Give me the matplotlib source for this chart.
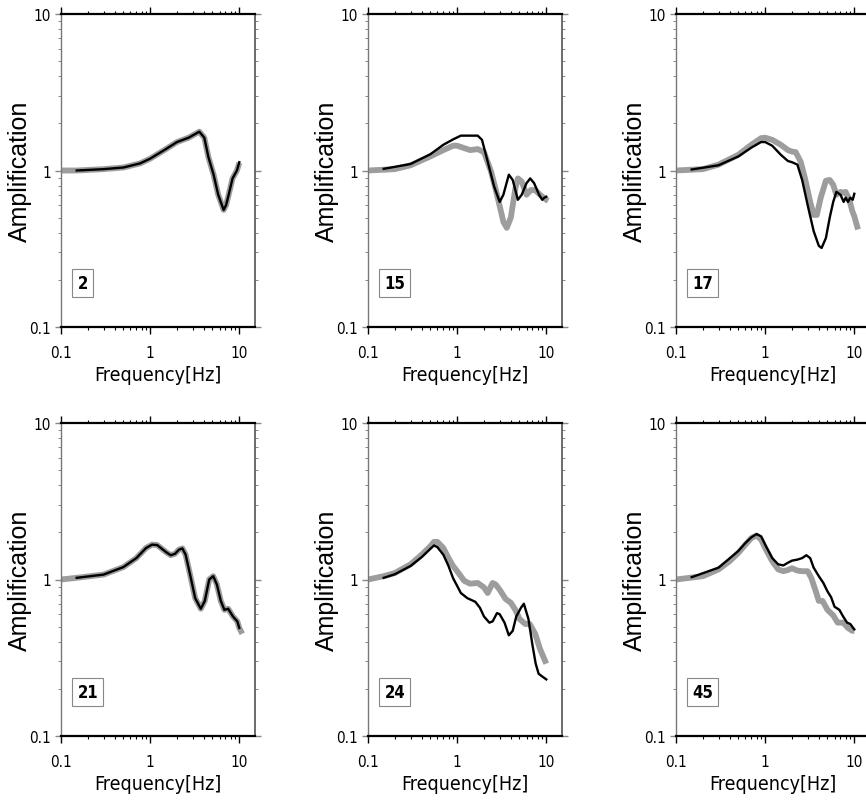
import numpy as np
import matplotlib
matplotlib.use("Agg")
import matplotlib.pyplot as plt
from matplotlib import font_manager as fm
from matplotlib.ticker import LogLocator, FixedLocator, FixedFormatter, NullFormatter

# site numbers of the six panels
sites = ["2", "15", "17", "21", "24", "45"]

# site 2
f2_g = [0.1, 0.15, 0.3, 0.5, 0.77, 1.0, 1.5, 2.0, 2.7, 3.56, 4.05, 4.5, 5.15, 5.8, 6.67, 7.1, 7.6, 8.4, 9.4, 10]
a2_g = [1.0, 1.0, 1.02, 1.045, 1.11, 1.19, 1.37, 1.52, 1.62, 1.77, 1.62, 1.22, 0.94, 0.70, 0.56, 0.60, 0.70, 0.89, 1.0, 1.12]
f2_b = [0.15, 0.3, 0.5, 0.77, 1.0, 1.5, 2.0, 2.7, 3.56, 4.05, 4.5, 5.15, 5.8, 6.67, 7.1, 7.6, 8.4, 9.4, 10]
a2_b = [1.0, 1.02, 1.045, 1.11, 1.19, 1.37, 1.52, 1.62, 1.77, 1.62, 1.22, 0.94, 0.70, 0.56, 0.60, 0.70, 0.89, 1.0, 1.13]

# site 15
f15_g = [0.1, 0.2, 0.3, 0.5, 0.7, 0.9, 1.0, 1.2, 1.4, 1.7, 2.0, 2.4, 2.8, 3.3, 3.6, 4.0, 4.5, 4.8, 5.3, 6.0, 6.7, 7.5, 8.5, 10, 10.5]
a15_g = [1.0, 1.02, 1.08, 1.23, 1.35, 1.44, 1.44, 1.39, 1.35, 1.37, 1.31, 0.985, 0.70, 0.47, 0.43, 0.50, 0.77, 0.89, 0.85, 0.70, 0.75, 0.75, 0.70, 0.65, 0.64]
f15_b = [0.15, 0.3, 0.5, 0.7, 0.9, 1.1, 1.4, 1.7, 1.9, 2.2, 2.6, 3.0, 3.3, 3.8, 4.2, 4.8, 5.3, 6.0, 6.6, 7.3, 8.3, 9.0, 9.5, 10]
a15_b = [1.025, 1.10, 1.27, 1.46, 1.58, 1.67, 1.67, 1.67, 1.57, 1.14, 0.79, 0.63, 0.70, 0.94, 0.87, 0.65, 0.70, 0.83, 0.89, 0.83, 0.70, 0.65, 0.67, 0.68]

# site 17
f17_g = [0.1, 0.2, 0.3, 0.5, 0.7, 0.9, 1.0, 1.2, 1.5, 1.8, 2.0, 2.2, 2.5, 2.8, 3.2, 3.5, 3.8, 4.2, 4.8, 5.3, 5.8, 6.3, 7.0, 7.5, 8.0, 8.8, 9.5, 10, 11]
a17_g = [1.0, 1.02, 1.09, 1.26, 1.46, 1.61, 1.62, 1.57, 1.46, 1.35, 1.32, 1.31, 1.14, 0.89, 0.63, 0.52, 0.52, 0.67, 0.86, 0.87, 0.81, 0.70, 0.73, 0.72, 0.73, 0.65, 0.55, 0.51, 0.42]
f17_b = [0.15, 0.3, 0.5, 0.7, 0.9, 1.0, 1.2, 1.5, 1.8, 2.0, 2.3, 2.6, 3.0, 3.5, 4.0, 4.3, 4.8, 5.3, 5.8, 6.3, 7.0, 7.6, 8.0, 8.5, 9.0, 9.6, 10]
a17_b = [1.015, 1.08, 1.23, 1.40, 1.52, 1.52, 1.44, 1.26, 1.15, 1.13, 1.09, 0.87, 0.60, 0.41, 0.33, 0.32, 0.37, 0.50, 0.63, 0.73, 0.70, 0.63, 0.67, 0.63, 0.67, 0.65, 0.71]

# site 21
f21_g = [0.1, 0.15, 0.3, 0.5, 0.7, 0.9, 1.05, 1.2, 1.5, 1.7, 1.9, 2.1, 2.3, 2.5, 2.8, 3.2, 3.7, 4.1, 4.6, 5.1, 5.6, 6.2, 6.8, 7.5, 8.5, 9.5, 10, 10.8]
a21_g = [1.0, 1.025, 1.075, 1.20, 1.37, 1.59, 1.67, 1.66, 1.50, 1.43, 1.46, 1.55, 1.58, 1.44, 1.08, 0.76, 0.65, 0.73, 1.0, 1.05, 0.93, 0.73, 0.64, 0.65, 0.58, 0.54, 0.49, 0.45]
f21_b = [0.15, 0.3, 0.5, 0.7, 0.9, 1.05, 1.2, 1.5, 1.7, 1.9, 2.1, 2.3, 2.5, 2.8, 3.2, 3.7, 4.1, 4.6, 5.1, 5.6, 6.2, 6.8, 7.5, 8.5, 9.5, 10]
a21_b = [1.025, 1.075, 1.20, 1.37, 1.59, 1.67, 1.66, 1.50, 1.43, 1.46, 1.55, 1.58, 1.44, 1.08, 0.76, 0.65, 0.73, 1.0, 1.05, 0.93, 0.73, 0.64, 0.65, 0.58, 0.54, 0.49]

# site 24
f24_g = [0.1, 0.15, 0.2, 0.3, 0.4, 0.5, 0.55, 0.6, 0.7, 0.8, 0.9, 1.0, 1.2, 1.4, 1.7, 2.0, 2.2, 2.5, 2.7, 3.0, 3.5, 4.0, 4.5, 5.0, 5.8, 6.5, 7.5, 8.5, 9.5, 10]
a24_g = [1.0, 1.05, 1.10, 1.25, 1.44, 1.63, 1.74, 1.74, 1.59, 1.37, 1.22, 1.13, 0.98, 0.94, 0.95, 0.89, 0.82, 0.95, 0.93, 0.86, 0.75, 0.71, 0.64, 0.56, 0.52, 0.52, 0.45, 0.36, 0.31, 0.29]
f24_b = [0.15, 0.2, 0.3, 0.4, 0.5, 0.55, 0.6, 0.7, 0.8, 0.9, 1.0, 1.1, 1.3, 1.6, 1.8, 2.0, 2.3, 2.5, 2.8, 3.0, 3.4, 3.8, 4.2, 4.6, 5.2, 5.6, 6.3, 7.0, 7.6, 8.2, 9.0, 10]
a24_b = [1.025, 1.08, 1.22, 1.39, 1.57, 1.65, 1.61, 1.44, 1.22, 1.02, 0.91, 0.82, 0.76, 0.72, 0.66, 0.58, 0.53, 0.54, 0.61, 0.60, 0.53, 0.44, 0.47, 0.58, 0.66, 0.70, 0.56, 0.38, 0.29, 0.25, 0.24, 0.23]

# site 45
f45_g = [0.1, 0.2, 0.3, 0.4, 0.5, 0.6, 0.7, 0.8, 0.9, 1.0, 1.2, 1.4, 1.6, 1.8, 2.0, 2.3, 2.6, 3.0, 3.3, 3.7, 4.0, 4.4, 5.0, 5.8, 6.5, 7.5, 8.5, 9.5, 10]
a45_g = [1.0, 1.05, 1.16, 1.31, 1.48, 1.67, 1.84, 1.91, 1.80, 1.59, 1.31, 1.16, 1.13, 1.15, 1.18, 1.14, 1.13, 1.13, 1.02, 0.84, 0.73, 0.73, 0.64, 0.59, 0.53, 0.53, 0.49, 0.47, 0.47]
f45_b = [0.15, 0.3, 0.5, 0.6, 0.7, 0.8, 0.9, 1.0, 1.2, 1.4, 1.6, 1.8, 2.0, 2.3, 2.6, 2.9, 3.2, 3.5, 4.0, 4.5, 5.0, 5.5, 6.0, 6.8, 7.5, 8.3, 9.0, 10]
a45_b = [1.035, 1.19, 1.52, 1.71, 1.86, 1.95, 1.89, 1.67, 1.37, 1.25, 1.23, 1.28, 1.32, 1.34, 1.37, 1.43, 1.37, 1.19, 1.05, 0.95, 0.84, 0.77, 0.67, 0.64, 0.58, 0.53, 0.52, 0.48]

gray_f = [f2_g, f15_g, f17_g, f21_g, f24_g, f45_g]
gray_a = [a2_g, a15_g, a17_g, a21_g, a24_g, a45_g]
black_f = [f2_b, f15_b, f17_b, f21_b, f24_b, f45_b]
black_a = [a2_b, a15_b, a17_b, a21_b, a24_b, a45_b]


# look for a narrow/condensed font for the tick labels, x label and site boxes
def find_narrow(weight="normal"):
    for name in ["Liberation Sans Narrow", "DejaVu Sans"]:
        try:
            path = fm.findfont(fm.FontProperties(family=name, stretch="condensed", weight=weight),
                               fallback_to_default=False)
        except ValueError:
            continue
        if "Narrow" in path or "Condensed" in path:
            return fm.FontProperties(fname=path), True
    return fm.FontProperties(family="Roboto", weight=weight), False


narrow_fp, is_narrow = find_narrow()
narrow_bold, _ = find_narrow("bold")
tick_size = 11 if is_narrow else 10.5
xlab_size = 14 if is_narrow else 13

fig = plt.figure(figsize=(8.66, 8.03), dpi=100)

# axes boxes in pixels (left, top) -> figure fractions
W, H = 866, 803
lefts = [61, 368, 676]
tops = [15, 424]
aw, ah = 194, 313

for k in range(6):
    row, col = k // 3, k % 3
    ax = fig.add_axes([lefts[col] / W, 1 - (tops[row] + ah) / H, aw / W, ah / H])
    ax.set_xscale("log")
    ax.set_yscale("log")
    ax.plot(gray_f[k], gray_a[k], color="#9d9d9d", lw=4.2, solid_capstyle="butt", zorder=2)
    ax.plot(black_f[k], black_a[k], color="black", lw=1.7, zorder=3)
    ax.set_xlim(0.1, 15)
    ax.set_ylim(0.1, 10)

    # spines: black top / bottom, gray sides
    ax.spines["top"].set_linewidth(1.6)
    ax.spines["bottom"].set_linewidth(1.6)
    ax.spines["left"].set_color("#777777")
    ax.spines["left"].set_linewidth(1.0)
    ax.spines["right"].set_color("#444444")
    ax.spines["right"].set_linewidth(1.1)

    ax.xaxis.set_major_locator(FixedLocator([0.1, 1, 10]))
    ax.xaxis.set_major_formatter(FixedFormatter(["0.1", "1", "10"]))
    ax.yaxis.set_major_locator(FixedLocator([0.1, 1, 10]))
    ax.yaxis.set_major_formatter(FixedFormatter(["0.1", "1", "10"]))
    ax.xaxis.set_minor_locator(LogLocator(base=10, subs=np.arange(2, 10), numticks=10))
    ax.yaxis.set_minor_locator(LogLocator(base=10, subs=np.arange(2, 10), numticks=10))
    ax.xaxis.set_minor_formatter(NullFormatter())
    ax.yaxis.set_minor_formatter(NullFormatter())

    ax.tick_params(axis="x", which="both", direction="out", top=True, bottom=True, color="black")
    ax.tick_params(axis="x", which="major", length=5, width=1.0, pad=8)
    ax.tick_params(axis="x", which="minor", length=2.5, width=0.8)
    ax.tick_params(axis="y", which="both", direction="out", left=True, right=True, color="#888888")
    ax.tick_params(axis="y", which="major", length=4, width=1.0, pad=3)
    ax.tick_params(axis="y", which="minor", length=2, width=0.7)
    for lab in ax.get_xticklabels() + ax.get_yticklabels():
        lab.set_fontproperties(narrow_fp)
        lab.set_fontsize(tick_size)

    ax.set_xlabel("Frequency[Hz]", fontproperties=narrow_fp, fontsize=xlab_size)
    ax.xaxis.set_label_coords(0.5, -0.12)
    ax.set_ylabel("Amplification", family="Liberation Sans", fontsize=18)
    ax.yaxis.set_label_coords(-0.15, 0.5)

    t = ax.text(0.085, 0.14, sites[k], transform=ax.transAxes, ha="left", va="center",
                fontproperties=narrow_bold,
                bbox=dict(boxstyle="square,pad=0.3", fc="white", ec="#888888", lw=0.8))
    t.set_fontsize(12)

fig.savefig("out.png", dpi=100)
